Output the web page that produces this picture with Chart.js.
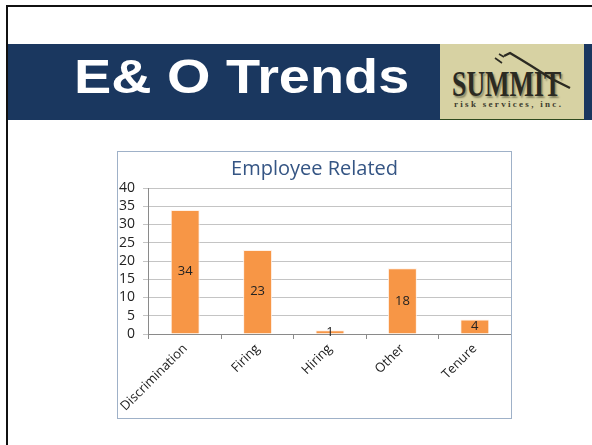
<!DOCTYPE html>
<html>
<head>
<meta charset="utf-8">
<title>E&amp; O Trends</title>
<script src="https://cdn.jsdelivr.net/npm/chart.js@4.4.0/dist/chart.umd.min.js"></script>
<style>
  html, body { margin: 0; padding: 0; background: #fff; }
  body { width: 592px; height: 445px; position: relative; overflow: hidden; }
  .slide { position: absolute; left: 6px; top: 5px; width: 620px; height: 480px; border: 2px solid #111; box-sizing: border-box; }
  .banner { position: absolute; left: 8px; top: 44px; width: 584px; height: 76px; background: #1a375f; }
  .banner h1 {
    position: absolute; left: 66px; top: 8px; margin: 0;
    font: bold 49px "Liberation Sans", Arial, sans-serif; line-height: 49px;
    color: #fff; white-space: nowrap;
    transform: scaleX(1.14); transform-origin: left top;
  }
  .logo { position: absolute; left: 440px; top: 44px; width: 144px; height: 75px; background: #d7d2a3; border-bottom: 1px solid #2f4a1e; overflow: hidden; }
  .logo .name {
    position: absolute; left: 12px; top: 23px; margin: 0;
    font: bold 35px "Liberation Serif", "DejaVu Serif", serif; line-height: 35px;
    color: #2b2a22; text-shadow: 2px 2px 2px rgba(40,40,20,0.45);
    transform: scaleX(0.74); transform-origin: left top; white-space: nowrap;
  }
  .logo .sub {
    position: absolute; left: 14px; top: 55px;
    font: bold 9px "Liberation Serif", serif; letter-spacing: 2.3px;
    color: #3d3b2e; white-space: nowrap;
  }
  .logo svg { position: absolute; left: 0; top: 0; }
  .chartbox { position: absolute; left: 117px; top: 151px; width: 395px; height: 268px; border: 1px solid #9fb1c8; box-sizing: border-box; background: #fff; }
  .chartbox .wrap { position: absolute; left: 0; top: 0; width: 393px; height: 266px; }
</style>
</head>
<body>
<div class="slide"></div>
<div class="banner"><h1>E&amp; O Trends</h1></div>
<div class="logo">
  <svg width="144" height="75">
    <path d="M64 12 L70 9 Q92 22 110 34 L130 44" fill="none" stroke="#2b2a22" stroke-width="2.4"/>
    <path d="M55 14 L62 19 M59 10 L64 13" fill="none" stroke="#2b2a22" stroke-width="1.6"/>
  </svg>
  <div class="name">SUMMIT</div>
  <div class="sub">risk services, inc.</div>
</div>
<div class="chartbox"><div class="wrap"><canvas id="chart"></canvas></div></div>

<script>
const categories = ["Discrimination", "Firing", "Hiring", "Other", "Tenure"];
const counts = [34, 23, 1, 18, 4];
const yMin = 0;
const yMax = 40;
const yStep = 5;

const chartFont = '"Open Sans", "Liberation Sans", sans-serif';

// writes each count in the middle of its bar
const barValueLabels = {
  id: "barValueLabels",
  afterDatasetsDraw(chart) {
    const ctx = chart.ctx;
    const meta = chart.getDatasetMeta(0);
    ctx.save();
    ctx.font = "13px " + chartFont;
    ctx.fillStyle = "#222";
    ctx.textAlign = "center";
    ctx.textBaseline = "middle";
    meta.data.forEach((bar, i) => {
      ctx.fillText(String(counts[i]), bar.x, (bar.y + bar.base) / 2);
    });
    ctx.restore();
  }
};

new Chart(document.getElementById("chart"), {
  type: "bar",
  data: {
    labels: categories,
    datasets: [{
      data: counts,
      backgroundColor: "#f79646",
      borderColor: "rgba(255,240,228,0.9)",
      borderWidth: 1,
      categoryPercentage: 1,
      barPercentage: 0.4
    }]
  },
  options: {
    responsive: true,
    maintainAspectRatio: false,
    animation: false,
    layout: { padding: 0 },
    plugins: {
      legend: { display: false },
      tooltip: { enabled: false },
      title: {
        display: true,
        text: "Employee Related",
        color: "#355584",
        font: { family: chartFont, size: 20, weight: "normal" },
        padding: { top: 5, bottom: 7 }
      }
    },
    scales: {
      x: {
        grid: { display: true, drawOnChartArea: false, tickLength: 5, color: "#8a8a8a", offset: true },
        border: { color: "#8a8a8a" },
        ticks: {
          color: "#222",
          font: { family: chartFont, size: 13 },
          minRotation: 45,
          maxRotation: 45,
          autoSkip: false,
          padding: 2
        },
        afterFit(scale) { scale.height = 84; }
      },
      y: {
        min: yMin,
        max: yMax,
        grid: { color: "#c4c4c4", tickLength: 6 },
        border: { color: "#8a8a8a" },
        ticks: {
          stepSize: yStep,
          autoSkip: false,
          color: "#222",
          font: { family: chartFont, size: 14, lineHeight: 1 },
          padding: 8
        },
        afterFit(scale) { scale.width = 30; }
      }
    }
  },
  plugins: [barValueLabels]
});
</script>
</body>
</html>
